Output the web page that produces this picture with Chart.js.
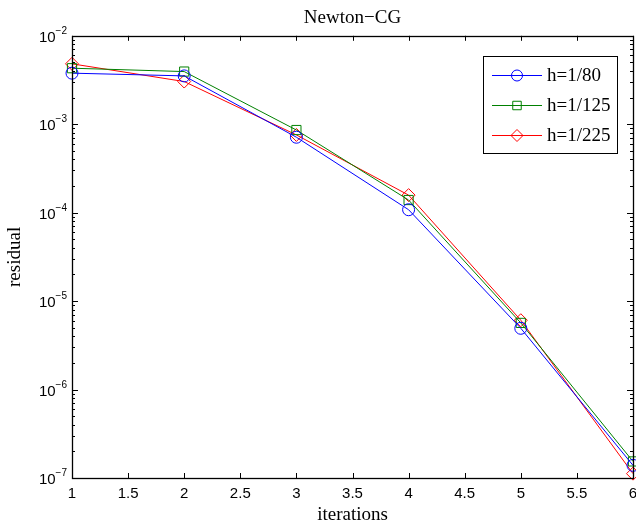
<!DOCTYPE html>
<html>
<head>
<meta charset="utf-8">
<script src="https://cdn.jsdelivr.net/npm/chart.js@4.4.0/dist/chart.umd.min.js"></script>
<style>
  html, body { margin: 0; padding: 0; background: #fff; }
  #wrap { width: 636px; height: 526px; }
</style>
</head>
<body>
<div id="wrap"><canvas id="residualChart" width="636" height="526"></canvas></div>
<script>
var iterations = [1, 2, 3, 4, 5, 6]
var res80 = [3.78e-3, 3.52e-3, 7.13e-4, 1.08e-4, 4.93e-6, 1.39e-7]
var res125 = [4.30e-3, 3.94e-3, 8.60e-4, 1.39e-4, 5.67e-6, 1.54e-7]
var res225 = [4.82e-3, 3.04e-3, 7.57e-4, 1.58e-4, 6.08e-6, 1.12e-7]
var seriesLabels = ['h=1/80', 'h=1/125', 'h=1/225']
var seriesColours = ['#0000ff', '#008000', '#ff0000']
var seriesMarkers = ['circle', 'rect', 'rectRot']
var xTicks = [1, 1.5, 2, 2.5, 3, 3.5, 4, 4.5, 5, 5.5, 6]
var yDecades = [-7, -6, -5, -4, -3, -2]

var serif = '"Liberation Serif", "Times New Roman", serif'
var sans = '"Liberation Sans", Arial, sans-serif'

function toPoints(ys) {
  var pts = []
  for (var i = 0; i < iterations.length; i++) {
    pts.push({ x: iterations[i], y: ys[i] })
  }
  return pts
}

function makeSet(i, ys, radius) {
  return {
    label: seriesLabels[i],
    data: toPoints(ys),
    borderColor: seriesColours[i],
    backgroundColor: 'rgba(0,0,0,0)',
    pointBorderColor: seriesColours[i],
    pointBackgroundColor: 'rgba(0,0,0,0)',
    pointStyle: seriesMarkers[i],
    pointRadius: radius,
    pointBorderWidth: 1,
    borderWidth: 1,
    fill: false,
    tension: 0,
    clip: false
  }
}

// matlab style frame, inward ticks, tick labels and boxed legend
var matlabAxes = {
  id: 'matlabAxes',
  afterDraw: function(chart) {
    var ctx = chart.ctx
    var a = chart.chartArea
    var xs = chart.scales.x
    var ys = chart.scales.y
    ctx.save()
    ctx.strokeStyle = '#000'
    ctx.lineWidth = 1
    ctx.beginPath()
    for (let v of xTicks) {
      var px = Math.round(xs.getPixelForValue(v)) + 0.5
      ctx.moveTo(px, a.bottom); ctx.lineTo(px, a.bottom - 5)
      ctx.moveTo(px, a.top); ctx.lineTo(px, a.top + 5)
    }
    for (let d of yDecades) {
      for (let m = 1; m < 10; m++) {
        if (d === -2 && m > 1) break
        var py = Math.round(ys.getPixelForValue(m * Math.pow(10, d))) + 0.5
        var len = (m === 1) ? 6 : 3
        ctx.moveTo(a.left, py); ctx.lineTo(a.left + len, py)
        ctx.moveTo(a.right, py); ctx.lineTo(a.right - len, py)
      }
    }
    ctx.stroke()
    ctx.lineWidth = 1.3
    ctx.strokeRect(Math.round(a.left) + 0.5, Math.round(a.top) + 0.5,
      Math.round(a.right - a.left), Math.round(a.bottom - a.top))

    // x tick labels
    ctx.fillStyle = '#000'
    ctx.font = '15px ' + sans
    ctx.textAlign = 'center'
    ctx.textBaseline = 'alphabetic'
    for (let v of xTicks) {
      ctx.fillText(String(v), xs.getPixelForValue(v), a.bottom + 20)
    }

    // y tick labels 10^n
    ctx.textAlign = 'right'
    for (let d of yDecades) {
      var y = ys.getPixelForValue(Math.pow(10, d))
      var expText = '\u2212' + Math.abs(d)
      ctx.font = '10px ' + sans
      var ew = ctx.measureText(expText).width
      ctx.fillText(expText, a.left - 5, y - 2)
      ctx.font = '15px ' + sans
      ctx.fillText('10', a.left - 5 - ew, y + 6)
    }

    // legend box
    var bx = 483, by = 56, bw = 134, bh = 97
    ctx.fillStyle = '#fff'
    ctx.fillRect(bx, by, bw, bh)
    ctx.strokeStyle = '#000'
    ctx.lineWidth = 1
    ctx.strokeRect(bx + 0.5, by + 0.5, bw, bh)
    for (let i = 0; i < seriesLabels.length; i++) {
      var ly = by + 19 + i * 30
      var ds = chart.data.datasets[i]
      ctx.fillStyle = seriesColours[i]
      ctx.fillRect(bx + 9, ly, 50, 1)
      ctx.strokeStyle = seriesColours[i]
      ctx.fillStyle = 'rgba(0,0,0,0)'
      ctx.lineWidth = 1
      Chart.helpers.drawPoint(ctx, {
        pointStyle: seriesMarkers[i], radius: ds.pointRadius - 0.5, rotation: 0, borderWidth: 1
      }, bx + 34, ly + 0.5)
      ctx.fillStyle = '#000'
      ctx.textAlign = 'left'
      ctx.textBaseline = 'middle'
      ctx.font = '19px ' + serif
      ctx.fillText(seriesLabels[i], bx + 64, ly + 1)
    }
    ctx.restore()
  }
}

var ctx = document.getElementById('residualChart').getContext('2d')
var residualChart = new Chart(ctx, {
  type: 'line',
  data: {
    datasets: [
      makeSet(0, res80, 6),
      makeSet(1, res125, 6.5),
      makeSet(2, res225, 6.5)
    ]
  },
  options: {
    responsive: false,
    animation: false,
    layout: { autoPadding: false, padding: { left: 0, right: 3, top: 0, bottom: 0 } },
    plugins: {
      legend: { display: false },
      tooltip: { enabled: false },
      title: {
        display: true,
        text: 'Newton\u2212CG',
        color: '#000',
        fullSize: false,
        font: { family: serif, size: 19, weight: 'normal' },
        padding: { top: 7, bottom: 6 }
      }
    },
    scales: {
      x: {
        type: 'linear',
        min: 1,
        max: 6,
        afterFit: function(scale) {
          scale.height = 48
          scale.paddingLeft = 0
          scale.paddingRight = 0
        },
        grid: { display: false },
        border: { display: false },
        ticks: { display: false },
        title: {
          display: true,
          text: 'iterations',
          color: '#000',
          font: { family: serif, size: 19 },
          padding: { top: 0, bottom: 0 }
        }
      },
      y: {
        type: 'logarithmic',
        min: 1e-7,
        max: 1e-2,
        afterFit: function(scale) { scale.width = 72 },
        grid: { display: false },
        border: { display: false },
        ticks: { display: false },
        title: {
          display: true,
          text: 'residual',
          color: '#000',
          font: { family: serif, size: 19 },
          padding: { top: 4, bottom: 0 }
        }
      }
    }
  },
  plugins: [matlabAxes]
})
</script>
</body>
</html>
